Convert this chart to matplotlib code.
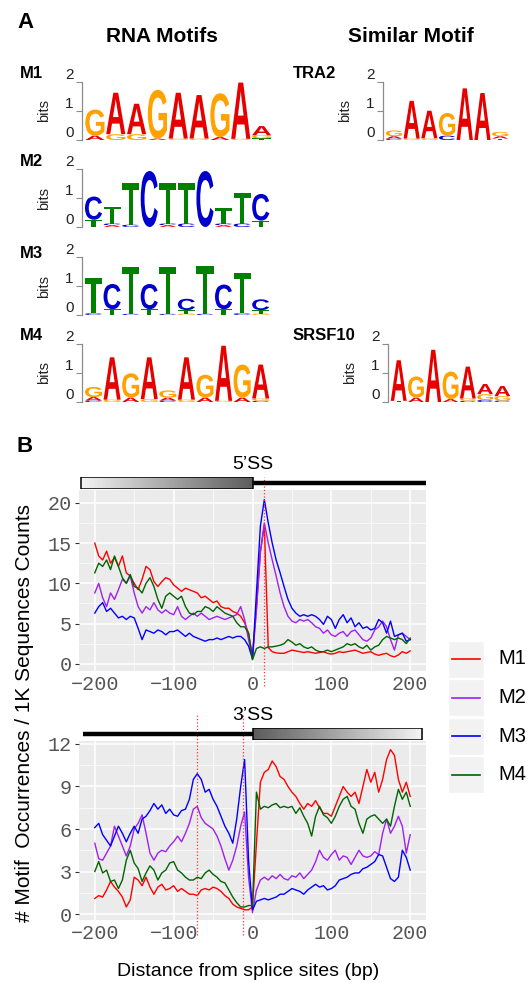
import matplotlib
matplotlib.use('Agg')
import numpy as np
import matplotlib.pyplot as plt
from matplotlib.textpath import TextPath
from matplotlib.patches import PathPatch, Rectangle
from matplotlib.font_manager import FontProperties
from matplotlib.transforms import Affine2D
from matplotlib.colors import LinearSegmentedColormap
from matplotlib.ticker import MultipleLocator

plt.rcParams['font.family'] = ['Liberation Sans', 'DejaVu Sans']

W, H = 532, 983

# ---------------- panel A: motif logos (bits per letter, per position) ----------------
m1_logo = [{'A': .15, 'G': .9}, {'G': .2, 'A': 1.43}, {'G': .2, 'A': 1.05}, {'A': .05, 'G': 1.68},
           {'G': .05, 'A': 1.58}, {'G': .05, 'A': 1.5}, {'A': .1, 'G': 1.51}, {'G': .04, 'A': 1.94},
           {'T': .06, 'G': .1, 'A': .32}]
m2_logo = [{'T': .25, 'C': .8}, {'A': .06, 'C': .06, 'T': .58}, {'C': .08, 'T': 1.43}, {'C': 1.93},
           {'A': .06, 'C': .06, 'T': 1.39}, {'C': .12, 'T': 1.39}, {'C': 1.93},
           {'A': .06, 'C': .06, 'T': .52}, {'C': .12, 'T': 1.04}, {'T': .22, 'C': .92}]
m3_logo = [{'C': .06, 'T': 1.22}, {'T': .2, 'C': .87}, {'C': .04, 'T': 1.62}, {'T': .2, 'C': .87},
           {'C': .04, 'T': 1.62}, {'G': .05, 'T': .12, 'C': .39}, {'C': .04, 'T': 1.65},
           {'T': .2, 'C': .85}, {'C': .06, 'T': 1.39}, {'G': .05, 'T': .12, 'C': .37}]
m4_logo = [{'C': .05, 'A': .12, 'G': .35}, {'G': .08, 'A': 1.46}, {'A': .15, 'G': .84},
           {'G': .1, 'A': 1.44}, {'C': .05, 'A': .1, 'G': .25}, {'G': .08, 'A': 1.46},
           {'A': .15, 'G': .79}, {'G': .04, 'A': 1.9}, {'A': .15, 'G': 1.14},
           {'C': .04, 'G': .08, 'A': 1.17}]
tra2_logo = [{'C': .05, 'A': .08, 'G': .2}, {'G': .05, 'A': 1.3}, {'G': .06, 'A': .95},
             {'C': .15, 'G': .78}, {'A': 1.78}, {'A': 1.62}, {'T': .05, 'A': .08, 'G': .15}]
srsf10_logo = [{'T': .04, 'A': 1.4}, {'A': .15, 'G': .73}, {'A': 1.8}, {'A': .1, 'G': .95},
               {'C': .04, 'G': .08, 'A': 1.1}, {'C': .07, 'G': .2, 'A': .35},
               {'C': .05, 'G': .15, 'A': .35}]
base_colors = {'A': '#e60000', 'G': '#ffa200', 'C': '#0000cc', 'T': '#008000'}

# ---------------- panel B: motif occurrences around splice sites ----------------
motifs = ['M1', 'M2', 'M3', 'M4']
motif_colors = ['#ff0000', '#a020f0', '#0000ff', '#006400']
pos = list(range(-200, 201, 5))

ss5_m1 = [15.0, 13.4, 12.9, 14.0, 12.5, 13.2, 12.1, 13.4, 11.3, 10.9, 10.0, 9.2, 10.5, 12.1, 11.7, 10.2,
          9.6, 10.2, 10.7, 10.5, 9.8, 9.4, 9.0, 9.4, 9.2, 9.0, 8.8, 8.2, 8.4, 8.0, 7.6, 7.8, 7.1, 6.9,
          6.9, 6.5, 6.3, 5.9, 5.1, 3.8,
          0.9,
          7.0, 14.0, 17.2, 2.0, 1.5, 1.35, 1.3, 1.3, 1.5, 1.7, 1.6, 1.5, 1.4, 1.5, 1.4, 1.3, 1.4, 1.5,
          1.3, 1.2, 1.3, 1.5, 1.4, 1.5, 1.6, 1.7, 1.5, 1.3, 1.4, 1.5, 1.2, 1.05, 1.2, 1.3, 1.0, 0.85,
          1.1, 1.5, 1.3, 1.6]
ss5_m2 = [8.8, 10.0, 8.2, 7.1, 8.8, 8.0, 9.2, 10.5, 10.0, 10.9, 8.8, 7.1, 6.3, 7.1, 6.7, 7.6, 6.7,
          6.3, 6.7, 6.3, 6.1, 7.1, 5.9, 5.5, 5.9, 6.3, 5.9, 6.3, 5.9, 5.5, 5.7, 5.9, 5.7, 5.5, 5.7,
          5.9, 6.1, 7.1, 5.5, 3.0,
          0.7,
          6.7, 13.8, 17.5, 15.0, 12.9, 10.9, 8.8, 7.1, 5.9, 5.3, 5.1, 5.5, 5.3, 5.5, 5.1, 4.6, 4.4,
          3.8, 4.2, 3.6, 3.4, 3.8, 4.0, 3.4, 4.0, 4.2, 3.6, 3.0, 2.8, 3.2, 4.2, 4.6, 5.3, 4.6, 3.0,
          1.7, 3.6, 3.8, 3.4, 3.0]
ss5_m3 = [6.3, 7.1, 7.6, 6.5, 6.9, 6.3, 5.7, 5.9, 5.5, 5.9, 5.7, 4.4, 3.0, 4.2, 4.0, 3.8, 4.2, 4.0,
          3.6, 4.0, 4.0, 4.2, 3.8, 3.4, 3.8, 3.4, 3.2, 3.0, 2.8, 3.0, 3.0, 3.2, 3.0, 3.2, 3.4, 3.2,
          3.4, 3.4, 3.0, 2.2,
          0.6,
          8.8, 17.1, 20.4, 17.5, 15.0, 12.9, 11.3, 9.6, 8.0, 6.9, 6.3, 5.9, 6.1, 5.9, 6.1, 5.9, 5.5,
          4.9, 5.9, 5.5, 4.4, 5.5, 6.1, 5.1, 5.7, 4.6, 5.1, 4.4, 4.6, 4.2, 4.4, 5.5, 5.1, 3.8, 5.3,
          3.4, 3.6, 3.8, 2.8, 3.0]
ss5_m4 = [11.3, 12.5, 12.1, 12.9, 11.7, 13.4, 12.1, 10.7, 10.0, 11.1, 9.6, 9.4, 8.8, 10.0, 10.7,
          9.6, 8.0, 6.9, 8.4, 8.8, 8.4, 8.0, 8.4, 7.1, 6.3, 6.1, 6.5, 6.5, 7.1, 6.9, 6.5, 7.1, 6.7,
          6.3, 6.1, 5.9, 5.1, 4.6, 4.6, 3.8,
          0.5,
          1.9, 2.1, 1.9, 2.1, 2.1, 2.2, 2.3, 2.5, 3.0, 2.7, 2.3, 2.5, 2.1, 1.9, 2.1, 1.7, 1.5, 1.5,
          1.7, 1.5, 1.7, 1.9, 2.1, 2.5, 2.3, 2.5, 2.1, 1.9, 2.3, 1.7, 2.1, 2.3, 3.0, 3.4, 3.2, 3.0,
          3.2, 3.0, 2.5, 3.2]

ss3_m1 = [1.1, 1.3, 1.2, 1.7, 2.3, 1.9, 1.6, 1.2, 0.5, 1.0, 2.6, 2.4, 2.0, 2.6, 1.9, 1.4, 1.9, 2.1,
          1.7, 1.8, 2.0, 1.6, 1.8, 1.6, 1.4, 1.4, 1.3, 1.7, 1.8, 1.7, 1.9, 1.8, 1.6, 1.3, 1.1, 0.7,
          0.5, 0.4, 0.3, 0.3,
          0.5,
          5.0, 9.3, 10.0, 10.2, 10.8, 10.4, 9.7, 9.5, 9.0, 8.6, 8.3, 7.8, 7.4, 7.8, 7.6, 8.0, 7.5,
          7.1, 7.1, 6.9, 7.6, 8.3, 9.0, 8.6, 8.3, 8.6, 7.8, 9.0, 10.2, 9.3, 10.0, 8.6, 9.5, 10.9,
          11.6, 11.2, 9.5, 8.6, 9.3, 8.3]
ss3_m2 = [5.0, 3.9, 3.8, 4.3, 4.8, 6.2, 5.5, 4.8, 4.1, 4.8, 6.0, 6.4, 7.0, 5.7, 4.3, 3.8, 4.3, 4.5,
          4.4, 4.8, 5.1, 5.5, 5.1, 5.7, 6.4, 7.4, 7.6, 6.8, 6.4, 6.2, 6.0, 5.5, 4.8, 3.9, 3.1, 3.8,
          4.8, 6.2, 7.2, 2.6,
          0.1,
          1.7, 2.4, 2.6, 2.4, 2.7, 2.5, 2.8, 2.5, 2.4, 2.7, 2.6, 2.9, 2.5, 2.8, 3.1, 3.7, 4.5, 4.0,
          3.8, 4.2, 4.5, 3.8, 4.1, 4.0, 3.5, 4.0, 4.5, 4.1, 4.0, 4.1, 4.4, 4.2, 5.7, 6.7, 5.7, 6.2,
          6.9, 6.2, 4.3, 5.6]
ss3_m3 = [6.1, 6.4, 5.6, 5.2, 4.8, 5.5, 6.2, 5.7, 5.1, 5.7, 6.2, 5.7, 6.7, 6.9, 7.3, 7.8, 7.4, 7.7,
          7.1, 7.4, 7.0, 6.9, 7.3, 7.4, 8.1, 9.5, 9.9, 9.5, 8.6, 8.8, 8.1, 7.6, 6.9, 6.2, 5.7, 5.0,
          6.7, 9.0, 10.9, 3.8,
          0.3,
          0.9, 1.0, 1.1, 1.0, 1.1, 1.2, 1.4, 1.4, 1.6, 1.8, 1.7, 1.6, 1.4, 1.7, 1.9, 2.1, 1.9, 2.0,
          1.7, 1.8, 2.0, 2.4, 2.5, 2.6, 2.8, 2.9, 2.9, 3.2, 3.3, 3.5, 3.7, 4.2, 4.1, 3.3, 2.5, 2.3,
          2.6, 4.5, 4.0, 3.1]
ss3_m4 = [3.0, 3.7, 2.9, 3.1, 2.3, 2.4, 1.8, 2.4, 3.8, 4.5, 3.6, 3.2, 2.3, 2.9, 3.4, 3.1, 2.4, 2.9,
          3.1, 3.6, 3.7, 3.1, 2.9, 2.6, 2.4, 2.4, 2.6, 2.5, 2.9, 3.1, 2.8, 2.6, 2.3, 2.2, 1.7, 1.2,
          0.8, 0.5, 0.5, 0.6,
          0.6,
          8.6, 7.4, 7.6, 7.5, 7.7, 7.8, 7.5, 7.6, 7.5, 7.6, 7.1, 7.5, 6.9, 6.4, 5.5, 6.9, 7.6, 7.0,
          6.8, 6.4, 6.9, 7.6, 8.1, 8.3, 7.6, 7.4, 6.4, 5.7, 6.7, 6.9, 7.0, 6.7, 6.4, 6.7, 6.2, 7.6,
          8.8, 8.1, 8.6, 7.6]

ss5_series = [ss5_m1, ss5_m2, ss5_m3, ss5_m4]
ss3_series = [ss3_m1, ss3_m2, ss3_m3, ss3_m4]


def rect(x0, y0, x1, y1):
    return [x0 / W, 1 - y1 / H, (x1 - x0) / W, (y1 - y0) / H]


def ftext(x, y, s, **kw):
    fig.text(x / W, 1 - y / H, s, **kw)


fig = plt.figure(figsize=(W / 100, H / 100), dpi=100)
fp = FontProperties(family='Liberation Sans', weight='bold')


def draw_letter(ax, ch, x, y, w, h):
    tp = TextPath((0, 0), ch, size=1, prop=fp)
    bb = tp.get_extents()
    t = Affine2D().translate(-bb.x0, -bb.y0).scale(w / bb.width, h / bb.height).translate(x, y)
    ax.add_patch(PathPatch(t.transform_path(tp), fc=base_colors[ch], ec='none', lw=0))


def logo(cols, x0, x1, y0):
    # y0 = pixel row of 0 bits; 29 px per bit
    ax = fig.add_axes(rect(x0, y0 - 58, x1, y0))
    for i, col in enumerate(cols):
        bottom = 0
        for ch, h in sorted(col.items(), key=lambda kv: kv[1]):
            draw_letter(ax, ch, i + 0.04, bottom, 0.92, h)
            bottom += h
    ax.set_xlim(-0.12, len(cols))
    ax.set_ylim(0, 2)
    for s in ['top', 'right', 'bottom']:
        ax.spines[s].set_visible(False)
    ax.spines['left'].set_color('#8c8c8c')
    ax.spines['left'].set_linewidth(0.9)
    ax.set_xticks([])
    ax.set_yticks([0, 1, 2])
    ax.set_yticklabels(['0', '1', '2'], va='bottom')
    ax.tick_params(axis='y', length=4, width=0.8, color='#8c8c8c', pad=2, labelsize=11, labelcolor='#222222')
    ax.set_ylabel('bits', fontsize=10.5, color='#222222')
    ax.yaxis.set_label_coords(-31 / (x1 - x0), 0.5)
    ax.patch.set_visible(False)
    return ax


ftext(17, 23, 'A', fontsize=16, fontweight='bold', va='center')
ftext(162, 36, 'RNA Motifs', fontsize=15, fontweight='bold', ha='center', va='center')
ftext(411, 36, 'Similar Motif', fontsize=15, fontweight='bold', ha='center', va='center')

logo(m1_logo, 82, 272, 140)
logo(m2_logo, 82, 270, 227)
logo(m3_logo, 82, 270, 315)
logo(m4_logo, 82, 270, 402)
logo(tra2_logo, 383, 509, 140)
logo(srsf10_logo, 388, 511, 402)

for lab, x, y in [('M1', 20, 74), ('M2', 20, 161), ('M3', 20, 253), ('M4', 20, 335),
                  ('TRA2', 293, 74), ('SRSF10', 293, 335)]:
    ftext(x, y, lab, fontsize=12, fontweight='bold', va='center')

# ---------------- panel B ----------------
ftext(17, 446, 'B', fontsize=16, fontweight='bold', va='center')

mono = ['Liberation Mono', 'DejaVu Sans Mono']
cmap_lr = LinearSegmentedColormap.from_list('lr', ['#f4f4f4', '#5c5c5c'])


def ss_plot(series, top, bottom, ylim, major, minor, title, title_y, box_side, bar_y, vlines, vl_top):
    ax = fig.add_axes(rect(79, top, 426, bottom))
    ax.set_facecolor('#ebebeb')
    for ser, c in zip(series, motif_colors):
        ax.plot(pos, ser, color=c, lw=1.0)
    ax.set_xlim(-220, 220)
    ax.set_ylim(*ylim)
    ax.xaxis.set_major_locator(MultipleLocator(100))
    ax.xaxis.set_minor_locator(MultipleLocator(50))
    ax.yaxis.set_major_locator(MultipleLocator(major))
    ax.yaxis.set_minor_locator(MultipleLocator(minor))
    ax.grid(which='major', color='white', lw=1.1)
    ax.grid(which='minor', color='white', lw=0.5)
    ax.set_axisbelow(True)
    for s in ax.spines.values():
        s.set_visible(False)
    ax.tick_params(axis='x', which='both', length=0, pad=3)
    ax.tick_params(axis='y', which='minor', length=0)
    ax.tick_params(axis='y', which='major', length=3, color='#333333', pad=2)
    for lab in ax.get_xticklabels() + ax.get_yticklabels():
        lab.set_family(mono)
        lab.set_fontsize(14.5)
        lab.set_color('#555555')
    hpx = bottom - top
    for v in vlines:
        ax.axvline(v, ymin=-(15 / hpx), ymax=1 + (top - vl_top) / hpx, clip_on=False,
                   color='#ff3333', lw=0.9, ls=':')
    # exon/intron bar
    bx = fig.add_axes(rect(79, bar_y - 6, 426, bar_y + 6))
    bx.set_xlim(-220, 220)
    bx.set_ylim(0, 1)
    bx.axis('off')
    grad = np.linspace(0, 1, 256).reshape(1, -1)
    if box_side == 'left':
        bx.imshow(grad, cmap=cmap_lr, extent=(-218, 0, 0.04, 0.96), aspect='auto')
        bx.add_patch(Rectangle((-218, 0.04), 218, 0.92, fill=False, ec='black', lw=1.1))
        bx.plot([0, 220], [0.5, 0.5], color='black', lw=3.2, solid_capstyle='butt')
    else:
        bx.imshow(grad[:, ::-1], cmap=cmap_lr, extent=(0, 215, 0.04, 0.96), aspect='auto')
        bx.add_patch(Rectangle((0, 0.04), 215, 0.92, fill=False, ec='black', lw=1.1))
        bx.plot([-215, 0], [0.5, 0.5], color='black', lw=3.2, solid_capstyle='butt')
    ftext(252.5, title_y, title, fontsize=14, ha='center', va='center')
    return ax


ss_plot(ss5_series, 490, 671, (-0.9, 21.6), 5, 2.5, '5\u2019SS', 465, 'left', 483, [15], 477)
ss_plot(ss3_series, 741, 920, (-0.42, 12.21), 3, 1.5, '3\u2019SS', 716, 'right', 734, [-70, -12], 713)

ftext(248, 972, 'Distance from splice sites (bp)', fontsize=14, ha='center', va='center')
ftext(25, 713, '# Motif  Occurrences / 1K Sequences Counts', fontsize=15, rotation=90,
      ha='center', va='center')

# legend
lg = fig.add_axes(rect(440, 630, 532, 800))
lg.set_xlim(440, 532)
lg.set_ylim(800, 630)
lg.axis('off')
for i, (name, c) in enumerate(zip(motifs, motif_colors)):
    yc = 659 + i * 38.5
    lg.add_patch(Rectangle((448, yc - 18.5), 36, 37, fc='#f2f2f2', ec='white', lw=1))
    lg.plot([452, 480], [yc, yc], color=c, lw=1.2)
    lg.text(498, yc, name, fontsize=14.5, va='center', ha='left')

fig.savefig('out.png', dpi=100)
